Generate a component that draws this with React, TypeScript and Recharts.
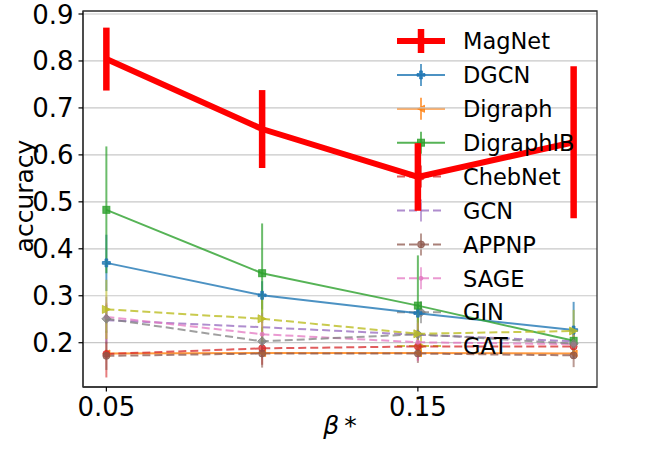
import { LineChart, Line, XAxis, YAxis, CartesianGrid, ErrorBar, Legend, ReferenceArea } from "recharts";

const betas = [0.05, 0.1, 0.15, 0.2];
const xTicks = [0.05, 0.15];
const yTicks = [0.2, 0.3, 0.4, 0.5, 0.6, 0.7, 0.8, 0.9];

const magnet = [0.804, 0.655, 0.553, 0.627];
const magnetErr = [0.067, 0.083, 0.072, 0.162];
const dgcn = [0.37, 0.301, 0.263, 0.227];
const dgcnErr = [0.06, 0.03, 0.02, 0.06];
const digraph = [0.177, 0.178, 0.178, 0.177];
const digraphErr = [0.008, 0.006, 0.006, 0.006];
const digraphIB = [0.483, 0.348, 0.279, 0.204];
const digraphIBErr = [0.135, 0.106, 0.107, 0.03];
const chebNet = [0.176, 0.188, 0.192, 0.192];
const chebNetErr = [0.05, 0.035, 0.03, 0.02];
const gcn = [0.248, 0.233, 0.217, 0.203];
const gcnErr = [0.05, 0.03, 0.025, 0.02];
const appnp = [0.172, 0.177, 0.177, 0.173];
const appnpErr = [0.03, 0.03, 0.02, 0.025];
const sage = [0.255, 0.218, 0.201, 0.197];
const sageErr = [0.03, 0.03, 0.04, 0.02];
const gin = [0.251, 0.203, 0.218, 0.198];
const ginErr = [0.03, 0.03, 0.03, 0.02];
const gat = [0.271, 0.251, 0.219, 0.225];
const gatErr = [0.063, 0.05, 0.045, 0.045];

const values: Record<string, number[]> = { magnet, dgcn, digraph, digraphIB, chebNet, gcn, appnp, sage, gin, gat };
const errors: Record<string, number[]> = {
  magnet: magnetErr, dgcn: dgcnErr, digraph: digraphErr, digraphIB: digraphIBErr, chebNet: chebNetErr,
  gcn: gcnErr, appnp: appnpErr, sage: sageErr, gin: ginErr, gat: gatErr,
};

type Series = {
  key: string;
  name: string;
  color: string;
  width: number;
  dash?: string;
  marker: string;
  size: number;
  opacity: number;
  errWidth: number;
  errOpacity: number;
};

const DASH = "8 4";
const series: Series[] = [
  { key: "magnet", name: "MagNet", color: "#ff0000", width: 6, marker: "none", size: 0, opacity: 1, errWidth: 6.5, errOpacity: 1 },
  { key: "dgcn", name: "DGCN", color: "#1f77b4", width: 2, marker: "P", size: 8, opacity: 0.8, errWidth: 2, errOpacity: 0.7 },
  { key: "digraph", name: "Digraph", color: "#ff7f0e", width: 2, marker: "<", size: 7, opacity: 0.8, errWidth: 2, errOpacity: 0.7 },
  { key: "digraphIB", name: "DigraphIB", color: "#2ca02c", width: 2, marker: "s", size: 7, opacity: 0.8, errWidth: 2, errOpacity: 0.7 },
  { key: "chebNet", name: "ChebNet", color: "#d62728", width: 2, dash: DASH, marker: "o", size: 7, opacity: 0.75, errWidth: 2, errOpacity: 0.6 },
  { key: "gcn", name: "GCN", color: "#9467bd", width: 2, dash: DASH, marker: "none", size: 0, opacity: 0.75, errWidth: 2, errOpacity: 0.6 },
  { key: "appnp", name: "APPNP", color: "#8c564b", width: 2, dash: DASH, marker: "o", size: 7, opacity: 0.75, errWidth: 2, errOpacity: 0.6 },
  { key: "sage", name: "SAGE", color: "#e377c2", width: 2, dash: DASH, marker: "o", size: 4, opacity: 0.75, errWidth: 2, errOpacity: 0.6 },
  { key: "gin", name: "GIN", color: "#7f7f7f", width: 2, dash: DASH, marker: "D", size: 9, opacity: 0.75, errWidth: 2, errOpacity: 0.6 },
  { key: "gat", name: "GAT", color: "#bcbd22", width: 2, dash: DASH, marker: ">", size: 8, opacity: 0.8, errWidth: 2, errOpacity: 0.6 },
];

const data = betas.map((beta, i) => {
  const row: Record<string, number> = { beta };
  for (const k of Object.keys(values)) {
    row[k] = values[k][i];
    row[k + "Err"] = errors[k][i];
  }
  return row;
});

const FONT = "DejaVu Sans";
const X_DOMAIN: [number, number] = [0.0425, 0.2075];
const Y_DOMAIN: [number, number] = [0.1057, 0.9064];
const LEGEND_LEFT = 390;
const LEGEND_TOP = 20;
const ROW_H = 33.9;

function Marker({ shape, cx, cy, color, size, opacity }: { shape: string; cx: number; cy: number; color: string; size: number; opacity: number }) {
  const h = size / 2;
  const common = { fill: color, fillOpacity: opacity, stroke: color, strokeOpacity: opacity, strokeWidth: 1 };
  switch (shape) {
    case "o":
      return <circle cx={cx} cy={cy} r={h} {...common} />;
    case "s":
      return <rect x={cx - h} y={cy - h} width={size} height={size} {...common} />;
    case "D":
      return <polygon points={`${cx},${cy - h} ${cx + h},${cy} ${cx},${cy + h} ${cx - h},${cy}`} {...common} />;
    case ">":
      return <polygon points={`${cx - h},${cy - h} ${cx + h},${cy} ${cx - h},${cy + h}`} {...common} />;
    case "<":
      return <polygon points={`${cx + h},${cy - h} ${cx - h},${cy} ${cx + h},${cy + h}`} {...common} />;
    case "P": {
      const t = size / 6;
      const pts = [
        [-t, -h], [t, -h], [t, -t], [h, -t], [h, t], [t, t], [t, h], [-t, h], [-t, t], [-h, t], [-h, -t], [-t, -t],
      ].map(([dx, dy]) => `${cx + dx},${cy + dy}`).join(" ");
      return <polygon points={pts} {...common} />;
    }
    default:
      return <g />;
  }
}

const dotFor = (s: Series) =>
  s.marker === "none"
    ? false
    : (p: any) => (
        <Marker key={`${s.key}-${p.index}`} shape={s.marker} cx={p.cx} cy={p.cy} color={s.color} size={s.size} opacity={s.opacity} />
      );

// legend handles sit under the plotted lines, the names go on top
function renderLegend() {
  return (
    <svg width={250} height={370} style={{ overflow: "visible", display: "block" }}>
      {series.map((s, i) => {
        const y = 21 + i * ROW_H;
        const bar = s.key === "magnet" ? 12 : 11;
        return (
          <g key={s.key}>
            <line x1={7} x2={55} y1={y} y2={y} stroke={s.color} strokeWidth={s.width} strokeDasharray={s.dash} strokeOpacity={s.opacity} />
            <line x1={31} x2={31} y1={y - bar} y2={y + bar} stroke={s.color} strokeWidth={s.errWidth} strokeOpacity={s.errOpacity} />
            <Marker shape={s.marker} cx={31} cy={y} color={s.color} size={s.size} opacity={s.opacity} />
          </g>
        );
      })}
    </svg>
  );
}

function LegendNames() {
  return (
    <svg
      width={250}
      height={370}
      style={{ position: "absolute", left: LEGEND_LEFT, top: LEGEND_TOP, overflow: "visible", pointerEvents: "none" }}
    >
      {series.map((s, i) => (
        <text key={s.key} x={73} y={21 + i * ROW_H + 8.2} fontSize={22.5} fontFamily={FONT} fill="#000">
          {s.name}
        </text>
      ))}
    </svg>
  );
}

const yLabel = () => (
  <text transform="translate(33,196) rotate(-90)" textAnchor="middle" fontSize={25} fontFamily={FONT} fill="#000">
    accuracy
  </text>
);

const xLabel = () => (
  <text x={340} y={434} textAnchor="middle" fontSize={25} fontFamily={FONT} fill="#000">
    <tspan fontStyle="italic">β</tspan>
    <tspan>{"\u2009*"}</tspan>
  </text>
);

export default function App() {
  return (
    <div style={{ position: "absolute", left: 0, top: 0, width: 664, height: 450, background: "#fff", zIndex: 0 }}>
      <LineChart width={664} height={450} data={data} margin={{ top: 11, right: 67, bottom: 0, left: 0 }} style={{ fontFamily: FONT }}>
        <CartesianGrid vertical={false} stroke="#c8c8c8" strokeWidth={1.2} />
        <XAxis
          dataKey="beta"
          type="number"
          domain={X_DOMAIN}
          allowDataOverflow
          ticks={xTicks}
          tickFormatter={(v: number) => v.toFixed(2)}
          tick={{ fill: "#000", fontSize: 26, fontFamily: FONT }}
          tickSize={4.5}
          tickMargin={6.5}
          tickLine={{ stroke: "#000", strokeWidth: 1.2 }}
          axisLine={{ stroke: "#333", strokeWidth: 1.3 }}
          height={63}
          label={xLabel}
        />
        <YAxis
          type="number"
          domain={Y_DOMAIN}
          allowDataOverflow
          ticks={yTicks}
          tickFormatter={(v: number) => v.toFixed(1)}
          tick={{ fill: "#000", fontSize: 26, fontFamily: FONT }}
          tickSize={4.5}
          tickMargin={5}
          tickLine={{ stroke: "#000", strokeWidth: 1.2 }}
          axisLine={{ stroke: "#333", strokeWidth: 1.3 }}
          width={83}
          label={yLabel}
        />
        <ReferenceArea
          x1={X_DOMAIN[0]}
          x2={X_DOMAIN[1]}
          y1={Y_DOMAIN[0]}
          y2={Y_DOMAIN[1]}
          fill="none"
          fillOpacity={0}
          stroke="#333"
          strokeWidth={1.3}
          ifOverflow="visible"
        />
        {series.map((s) => (
          <Line
            key={s.key}
            type="linear"
            dataKey={s.key}
            name={s.name}
            stroke={s.color}
            strokeWidth={s.width}
            strokeOpacity={s.opacity}
            strokeDasharray={s.dash}
            dot={dotFor(s)}
            activeDot={false}
            isAnimationActive={false}
          >
            <ErrorBar dataKey={s.key + "Err"} direction="y" width={0} stroke={s.color} strokeWidth={s.errWidth} strokeOpacity={s.errOpacity} isAnimationActive={false} />
          </Line>
        ))}
        <Legend
          layout="horizontal"
          verticalAlign="middle"
          align="center"
          content={renderLegend}
          wrapperStyle={{ left: LEGEND_LEFT, top: LEGEND_TOP, width: 250, height: 370, zIndex: -1 }}
        />
      </LineChart>
      <LegendNames />
    </div>
  );
}
